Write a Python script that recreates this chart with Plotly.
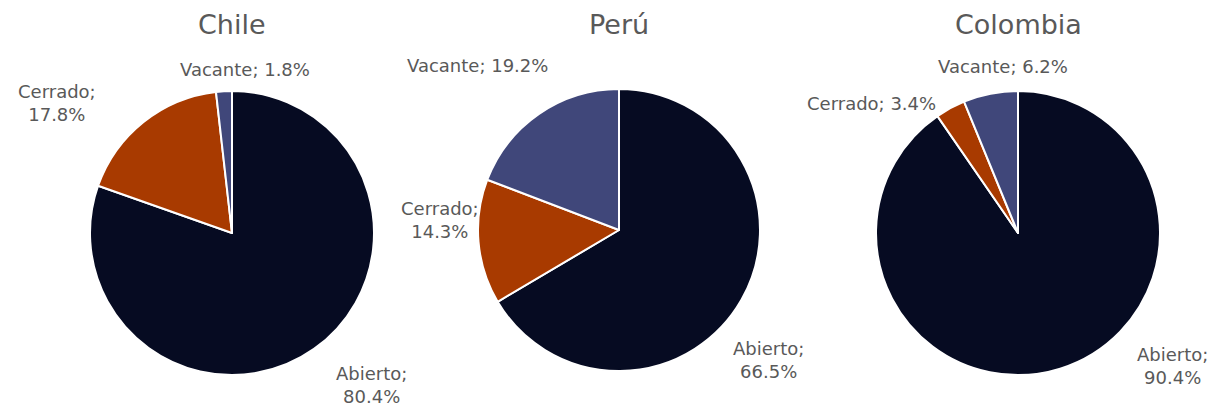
import plotly.graph_objects as go

W, H = 1216, 407

categories = ["Abierto", "Cerrado", "Vacante"]
countries = ["Chile", "Perú", "Colombia"]
chile = [80.4, 17.8, 1.8]
peru = [66.5, 14.3, 19.2]
colombia = [90.4, 3.4, 6.2]
series = [chile, peru, colombia]

colors = ["#060B22", "#A83A00", "#40477A"]
text_color = "#595959"
font_family = "DejaVu Sans"

# pie areas in screen pixels: (x0, x1, y0_top, y1_bottom)
pie_boxes = [(90, 374, 91, 375), (478, 760, 89, 371), (876, 1160, 91, 375)]
# label centre positions in screen pixels and whether label breaks onto two lines
label_pos = [
    [(371, 385, True), (57, 103, True), (245, 69, False)],
    [(768, 360, True), (440, 220, True), (477, 65, False)],
    [(1172, 366, True), (871, 103, False), (1003, 67, False)],
]
title_y = 24


def px(x):
    return x / W


def py(y):
    return 1 - y / H


fig = go.Figure()
annotations = []
for i, (name, vals) in enumerate(zip(countries, series)):
    x0, x1, yt, yb = pie_boxes[i]
    fig.add_trace(go.Pie(
        labels=categories, values=vals, sort=False, direction="clockwise",
        rotation=0, textinfo="none", hoverinfo="label+percent",
        marker=dict(colors=colors, line=dict(color="white", width=2)),
        domain=dict(x=[px(x0), px(x1)], y=[py(yb), py(yt)]),
        showlegend=False, name=name,
    ))
    annotations.append(dict(
        text=name, x=px((x0 + x1) / 2), y=py(title_y), xref="paper", yref="paper",
        showarrow=False, xanchor="center", yanchor="middle",
        font=dict(family=font_family, size=27, color=text_color),
    ))
    for cat, v, (lx, ly, two) in zip(categories, vals, label_pos[i]):
        sep = ";<br>" if two else "; "
        annotations.append(dict(
            text=f"{cat}{sep}{v:.1f}%", x=px(lx), y=py(ly), xref="paper", yref="paper",
            showarrow=False, xanchor="center", yanchor="middle", align="center",
            font=dict(family=font_family, size=18, color=text_color),
        ))

fig.update_layout(
    width=W, height=H, margin=dict(l=0, r=0, t=0, b=0),
    paper_bgcolor="white", plot_bgcolor="white",
    annotations=annotations,
)
fig.write_html(
    "out.html",
    config={"displayModeBar": False},
    post_script="document.body.style.margin='0';document.body.style.overflow='hidden';",
)
